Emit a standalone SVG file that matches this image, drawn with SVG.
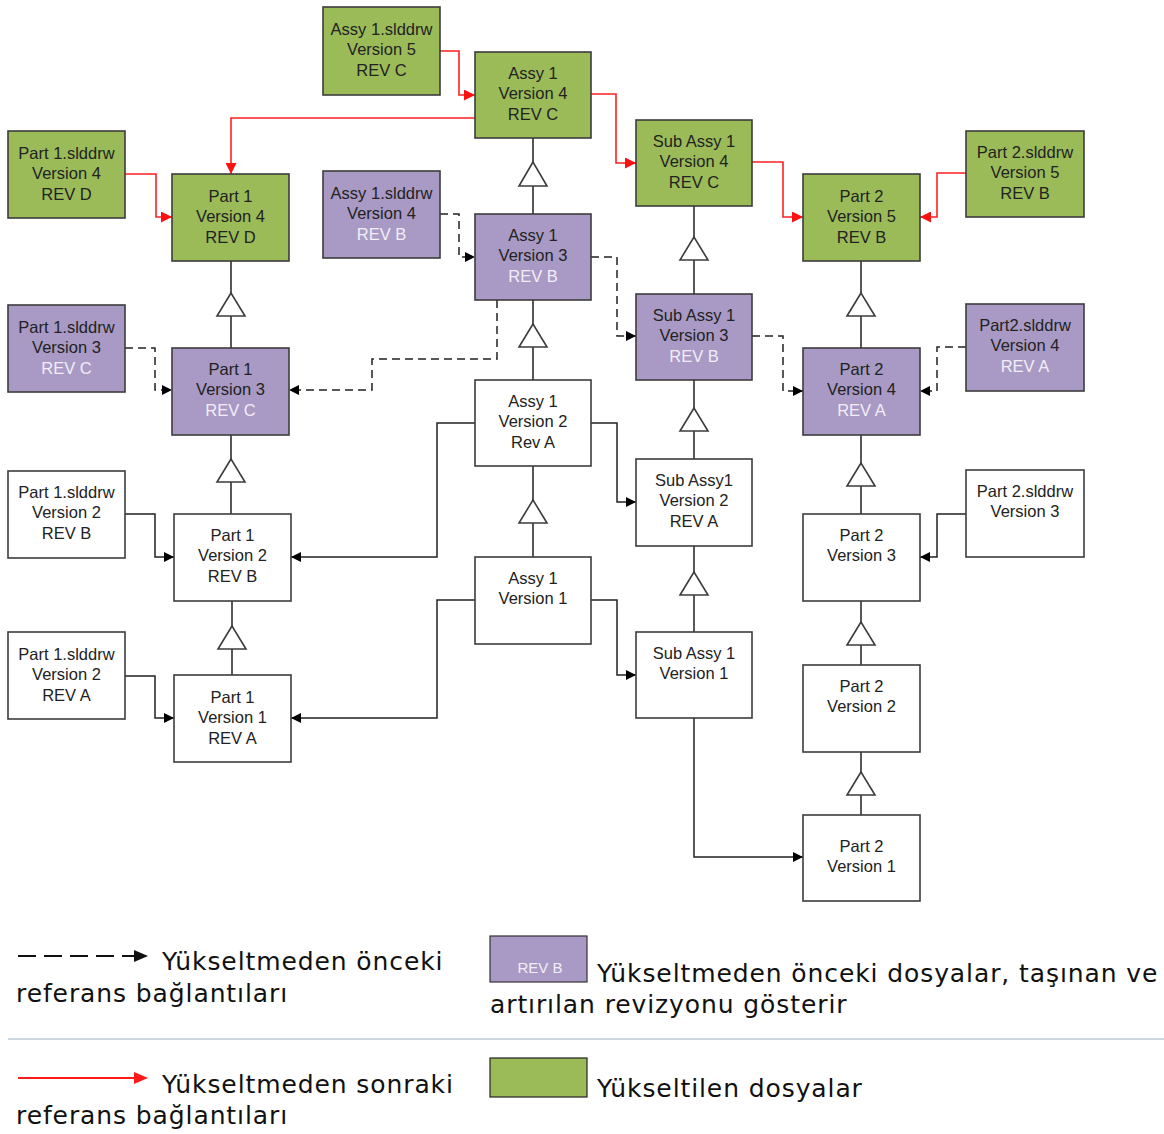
<svg xmlns="http://www.w3.org/2000/svg" width="1164" height="1134" viewBox="0 0 1164 1134">
<style>
.b{stroke:#3c3c3c;stroke-width:1.6}
.g{fill:#9BBB59}
.p{fill:#A89AC4}
.w{fill:#fff}
.t{font-family:"Liberation Sans",Arial,sans-serif;font-size:16.5px;fill:#222;text-anchor:middle}
.tl{fill:#F2EEF8}
.c{fill:none;stroke:#222;stroke-width:1.5}
.r{fill:none;stroke:#FF2020;stroke-width:1.6}
.d{stroke-dasharray:8 5}
.tri{fill:#fff;stroke:#3c3c3c;stroke-width:1.6}
.lg{font-family:"DejaVu Sans",Verdana,sans-serif;font-size:25px;letter-spacing:0.9px;fill:#111}
</style>
<defs>
<marker id="ab" viewBox="0 0 10 10" refX="10" refY="5" markerWidth="10" markerHeight="10" orient="auto" markerUnits="userSpaceOnUse"><path d="M0,0 L10,5 L0,10 z" fill="#000"/></marker>
<marker id="ar" viewBox="0 0 10 10" refX="10" refY="5" markerWidth="11" markerHeight="11" orient="auto" markerUnits="userSpaceOnUse"><path d="M0,0 L10,5 L0,10 z" fill="#FF1010"/></marker>
</defs>
<rect width="1164" height="1134" fill="#fff"/>

<!-- inheritance lines -->
<g id="inheritance">
<path class="c" d="M533,138 V214 M533,300 V380 M533,466 V557"/>
<path class="c" d="M231,261 V348 M231,435 V514 M232,601 V675"/>
<path class="c" d="M694,206 V294 M694,380 V459 M694,546 V632"/>
<path class="c" d="M861,261 V348 M861,435 V514 M861,601 V665 M861,752 V815"/>
<polygon class="tri" points="533,162 519,186 547,186"/>
<polygon class="tri" points="533,324 519,347 547,347"/>
<polygon class="tri" points="533,500 519,523 547,523"/>
<polygon class="tri" points="231,293 217,316 245,316"/>
<polygon class="tri" points="231,459 217,482 245,482"/>
<polygon class="tri" points="232,626 218,649 246,649"/>
<polygon class="tri" points="694,237 680,260 708,260"/>
<polygon class="tri" points="694,408 680,431 708,431"/>
<polygon class="tri" points="694,572 680,595 708,595"/>
<polygon class="tri" points="861,293 847,316 875,316"/>
<polygon class="tri" points="861,463 847,486 875,486"/>
<polygon class="tri" points="861,622 847,645 875,645"/>
<polygon class="tri" points="861,772 847,795 875,795"/>
</g>

<g id="connectors">
<!-- red -->
<path class="r" d="M440,51 H459 V95 H475" marker-end="url(#ar)"/>
<path class="r" d="M475,118 H231 V174" marker-end="url(#ar)"/>
<path class="r" d="M125,174 H156 V217 H172" marker-end="url(#ar)"/>
<path class="r" d="M591,94 H616 V163 H636" marker-end="url(#ar)"/>
<path class="r" d="M752,162 H783 V217 H803" marker-end="url(#ar)"/>
<path class="r" d="M966,173 H937 V217 H920" marker-end="url(#ar)"/>
<!-- dashed -->
<path class="c d" d="M440,214 H459 V257 H475" marker-end="url(#ab)"/>
<path class="c d" d="M497,300 V359 H372 V390 H289" marker-end="url(#ab)"/>
<path class="c d" d="M125,348 H155 V390 H172" marker-end="url(#ab)"/>
<path class="c d" d="M591,257 H617 V336 H636" marker-end="url(#ab)"/>
<path class="c d" d="M752,336 H783 V391 H803" marker-end="url(#ab)"/>
<path class="c d" d="M966,347 H937 V391 H920" marker-end="url(#ab)"/>
<!-- solid -->
<path class="c" d="M475,423 H437 V557 H291" marker-end="url(#ab)"/>
<path class="c" d="M125,514 H155 V557 H174" marker-end="url(#ab)"/>
<path class="c" d="M475,600 H437 V718 H291" marker-end="url(#ab)"/>
<path class="c" d="M125,676 H155 V718 H174" marker-end="url(#ab)"/>
<path class="c" d="M591,423 H617 V502 H636" marker-end="url(#ab)"/>
<path class="c" d="M591,600 H617 V675 H636" marker-end="url(#ab)"/>
<path class="c" d="M694,718 V857 H803" marker-end="url(#ab)"/>
<path class="c" d="M966,514 H937 V557 H920" marker-end="url(#ab)"/>
</g>

<!-- green nodes -->
<g id="n-assy1-drw-v5"><rect class="b g" x="323" y="7" width="117" height="88"/><text class="t" x="381.5" y="35">Assy 1.slddrw</text><text class="t" x="381.5" y="55">Version 5</text><text class="t" x="381.5" y="76">REV C</text></g>
<g id="n-assy1-v4"><rect class="b g" x="475" y="52" width="116" height="86"/><text class="t" x="533" y="79">Assy 1</text><text class="t" x="533" y="99">Version 4</text><text class="t" x="533" y="120">REV C</text></g>
<g id="n-part1-drw-v4"><rect class="b g" x="8" y="131" width="117" height="87"/><text class="t" x="66.5" y="159">Part 1.slddrw</text><text class="t" x="66.5" y="179">Version 4</text><text class="t" x="66.5" y="200">REV D</text></g>
<g id="n-part1-v4"><rect class="b g" x="172" y="174" width="117" height="87"/><text class="t" x="230.5" y="202">Part 1</text><text class="t" x="230.5" y="222">Version 4</text><text class="t" x="230.5" y="243">REV D</text></g>
<g id="n-subassy1-v4"><rect class="b g" x="636" y="120" width="116" height="86"/><text class="t" x="694" y="147">Sub Assy 1</text><text class="t" x="694" y="167">Version 4</text><text class="t" x="694" y="188">REV C</text></g>
<g id="n-part2-v5"><rect class="b g" x="803" y="174" width="117" height="87"/><text class="t" x="861.5" y="202">Part 2</text><text class="t" x="861.5" y="222">Version 5</text><text class="t" x="861.5" y="243">REV B</text></g>
<g id="n-part2-drw-v5"><rect class="b g" x="966" y="131" width="118" height="86"/><text class="t" x="1025" y="158">Part 2.slddrw</text><text class="t" x="1025" y="178">Version 5</text><text class="t" x="1025" y="199">REV B</text></g>

<!-- purple nodes -->
<g id="n-assy1-drw-v4"><rect class="b p" x="323" y="171" width="117" height="87"/><text class="t" x="381.5" y="199">Assy 1.slddrw</text><text class="t" x="381.5" y="219">Version 4</text><text class="t tl" x="381.5" y="240">REV B</text></g>
<g id="n-assy1-v3"><rect class="b p" x="475" y="214" width="116" height="86"/><text class="t" x="533" y="241">Assy 1</text><text class="t" x="533" y="261">Version 3</text><text class="t tl" x="533" y="282">REV B</text></g>
<g id="n-subassy1-v3"><rect class="b p" x="636" y="294" width="116" height="86"/><text class="t" x="694" y="321">Sub Assy 1</text><text class="t" x="694" y="341">Version 3</text><text class="t tl" x="694" y="362">REV B</text></g>
<g id="n-part2-v4"><rect class="b p" x="803" y="348" width="117" height="87"/><text class="t" x="861.5" y="375">Part 2</text><text class="t" x="861.5" y="395">Version 4</text><text class="t tl" x="861.5" y="416">REV A</text></g>
<g id="n-part2-drw-v4"><rect class="b p" x="966" y="304" width="118" height="87"/><text class="t" x="1025" y="331">Part2.slddrw</text><text class="t" x="1025" y="351">Version 4</text><text class="t tl" x="1025" y="372">REV A</text></g>
<g id="n-part1-drw-v3"><rect class="b p" x="8" y="305" width="117" height="87"/><text class="t" x="66.5" y="333">Part 1.slddrw</text><text class="t" x="66.5" y="353">Version 3</text><text class="t tl" x="66.5" y="374">REV C</text></g>
<g id="n-part1-v3"><rect class="b p" x="172" y="348" width="117" height="87"/><text class="t" x="230.5" y="375">Part 1</text><text class="t" x="230.5" y="395">Version 3</text><text class="t tl" x="230.5" y="416">REV C</text></g>

<!-- white nodes -->
<g id="n-assy1-v2"><rect class="b w" x="475" y="380" width="116" height="86"/><text class="t" x="533" y="407">Assy 1</text><text class="t" x="533" y="427">Version 2</text><text class="t" x="533" y="448">Rev A</text></g>
<g id="n-subassy1-v2"><rect class="b w" x="636" y="459" width="116" height="87"/><text class="t" x="694" y="486">Sub Assy1</text><text class="t" x="694" y="506">Version 2</text><text class="t" x="694" y="527">REV A</text></g>
<g id="n-part2-drw-v3"><rect class="b w" x="966" y="470" width="118" height="87"/><text class="t" x="1025" y="497">Part 2.slddrw</text><text class="t" x="1025" y="517">Version 3</text></g>
<g id="n-part2-v3"><rect class="b w" x="803" y="514" width="117" height="87"/><text class="t" x="861.5" y="541">Part 2</text><text class="t" x="861.5" y="561">Version 3</text></g>
<g id="n-part1-drw-v2b"><rect class="b w" x="8" y="471" width="117" height="87"/><text class="t" x="66.5" y="498">Part 1.slddrw</text><text class="t" x="66.5" y="518">Version 2</text><text class="t" x="66.5" y="539">REV B</text></g>
<g id="n-part1-v2"><rect class="b w" x="174" y="514" width="117" height="87"/><text class="t" x="232.5" y="541">Part 1</text><text class="t" x="232.5" y="561">Version 2</text><text class="t" x="232.5" y="582">REV B</text></g>
<g id="n-assy1-v1"><rect class="b w" x="475" y="557" width="116" height="87"/><text class="t" x="533" y="584">Assy 1</text><text class="t" x="533" y="604">Version 1</text></g>
<g id="n-subassy1-v1"><rect class="b w" x="636" y="632" width="116" height="86"/><text class="t" x="694" y="659">Sub Assy 1</text><text class="t" x="694" y="679">Version 1</text></g>
<g id="n-part1-drw-v2a"><rect class="b w" x="8" y="632" width="117" height="87"/><text class="t" x="66.5" y="660">Part 1.slddrw</text><text class="t" x="66.5" y="680">Version 2</text><text class="t" x="66.5" y="701">REV A</text></g>
<g id="n-part1-v1"><rect class="b w" x="174" y="675" width="117" height="87"/><text class="t" x="232.5" y="703">Part 1</text><text class="t" x="232.5" y="723">Version 1</text><text class="t" x="232.5" y="744">REV A</text></g>
<g id="n-part2-v2"><rect class="b w" x="803" y="665" width="117" height="87"/><text class="t" x="861.5" y="692">Part 2</text><text class="t" x="861.5" y="712">Version 2</text></g>
<g id="n-part2-v1"><rect class="b w" x="803" y="815" width="117" height="86"/><text class="t" x="861.5" y="852">Part 2</text><text class="t" x="861.5" y="872">Version 1</text></g>

<!-- legend -->
<g id="legend">
<path d="M18,956 H134" fill="none" stroke="#111" stroke-width="2" stroke-dasharray="18 8"/>
<path d="M134,950 L148,956 L134,962 z" fill="#111"/>
<text class="lg" x="162" y="970">Yükseltmeden önceki</text>
<text class="lg" x="16" y="1002">referans bağlantıları</text>
<rect x="490" y="936" width="97" height="46" fill="#A89AC4" stroke="#333" stroke-width="1.2"/>
<text x="540" y="973" font-family="Liberation Sans,Arial,sans-serif" font-size="15" fill="#F2EEF8" text-anchor="middle">REV B</text>
<text class="lg" x="597" y="982">Yükseltmeden önceki dosyalar, taşınan ve</text>
<text class="lg" x="490" y="1013">artırılan revizyonu gösterir</text>
<path d="M8,1039 H1164" stroke="#BCCBD9" stroke-width="1.5"/>
<path d="M18,1078 H134" fill="none" stroke="#FF1A1A" stroke-width="2"/>
<path d="M134,1072 L148,1078 L134,1084 z" fill="#FF1A1A"/>
<text class="lg" x="162" y="1093">Yükseltmeden sonraki</text>
<text class="lg" x="16" y="1124">referans bağlantıları</text>
<rect x="490" y="1058" width="97" height="39" fill="#9BBB59" stroke="#222" stroke-width="1.2"/>
<text class="lg" x="597" y="1097">Yükseltilen dosyalar</text>
</g>
</svg>
